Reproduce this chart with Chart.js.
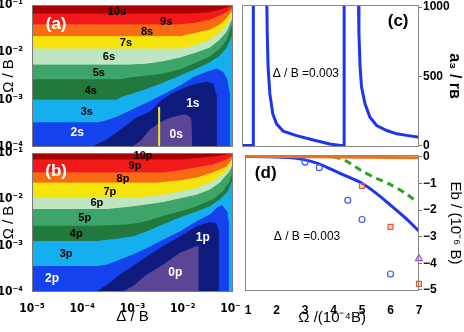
<!DOCTYPE html>
<html>
<head>
<meta charset="utf-8">
<script src="https://cdn.jsdelivr.net/npm/chart.js@4.4.0/dist/chart.umd.min.js"></script>
<style>
  html, body { margin: 0; padding: 0; background: #fff; }
  #wrap { position: relative; width: 464px; height: 332px; overflow: hidden; }
  canvas { position: absolute; }
</style>
</head>
<body>
<div id="wrap">
  <canvas id="pa" width="240" height="156" style="left:0px;top:0px"></canvas>
  <canvas id="pb" width="240" height="188" style="left:0px;top:144px"></canvas>
  <canvas id="pc" width="224" height="156" style="left:240px;top:0px"></canvas>
  <canvas id="pd" width="224" height="188" style="left:240px;top:144px"></canvas>
</div>
<script>
/* panel (a): upper edge of the region "level <= k", x = log10(Δ/B), y = log10(Ω/B) */
const aEdge10 = [[-5, -1], [-1, -1]];
const aEdge9 = [[-5, -1.19], [-1.86, -1.19], [-1.72, -1.18], [-1.46, -1.16], [-1.26, -1.11], [-1.12, -1.06], [-1, -1]];
const aEdge8 = [[-5, -1.42], [-2.05, -1.42], [-1.72, -1.38], [-1.46, -1.32], [-1.26, -1.23], [-1.12, -1.16], [-1, -1.04]];
const aEdge7 = [[-5, -1.67], [-2.05, -1.67], [-1.72, -1.59], [-1.46, -1.53], [-1.26, -1.42], [-1.12, -1.28], [-1, -1.11]];
const aEdge6 = [[-5, -1.93], [-2.05, -1.93], [-1.86, -1.89], [-1.72, -1.85], [-1.46, -1.74], [-1.26, -1.59], [-1.12, -1.42], [-1, -1.19]];
const aEdge5 = [[-5, -2.27], [-3.05, -2.27], [-2.71, -2.25], [-2.39, -2.20], [-2.05, -2.12], [-1.72, -2.01], [-1.46, -1.91], [-1.26, -1.74], [-1.12, -1.57], [-1, -1.28]];
const aEdge4 = [[-5, -2.58], [-3.25, -2.58], [-3.05, -2.54], [-2.71, -2.50], [-2.39, -2.46], [-2.05, -2.37], [-1.72, -2.22], [-1.46, -2.10], [-1.26, -1.93], [-1.12, -1.74], [-1, -1.40]];
const aEdge3 = [[-5, -3.01], [-3.31, -3.01], [-3.19, -2.94], [-3.05, -2.90], [-2.71, -2.78], [-2.39, -2.65], [-2.05, -2.50], [-1.72, -2.35], [-1.46, -2.22], [-1.26, -2.08], [-1.12, -1.91], [-1, -1.63]];
const aEdge2 = [[-5, -3.49], [-3.71, -3.49], [-3.59, -3.47], [-3.31, -3.37], [-3.05, -3.24], [-2.71, -3.07], [-2.39, -2.90], [-2.05, -2.71], [-1.80, -2.54], [-1.52, -2.42], [-1.32, -2.35], [-1.20, -2.42], [-1.12, -2.58], [-1.08, -2.84], [-1.08, -4]];
const aEdge1 = [[-3.79, -4], [-3.51, -3.85], [-3.31, -3.70], [-3.11, -3.54], [-2.95, -3.41], [-2.65, -3.26], [-2.41, -3.01], [-2.25, -2.90], [-1.99, -2.77], [-1.72, -2.67], [-1.52, -2.63], [-1.40, -2.67], [-1.34, -2.90], [-1.34, -4]];
const aEdge0 = [[-3.01, -4], [-2.85, -3.89], [-2.65, -3.64], [-2.45, -3.49], [-2.25, -3.39], [-2.05, -3.34], [-1.94, -3.32], [-1.84, -3.39], [-1.82, -4]];

/* panel (b) */
const bEdge10 = [[-5, -1], [-1, -1]];
const bEdge9 = [[-5, -1.15], [-2.05, -1.15], [-1.40, -1.09], [-1.12, -1.04], [-1, -1]];
const bEdge8 = [[-5, -1.43], [-2.39, -1.43], [-2.05, -1.38], [-1.72, -1.32], [-1.40, -1.26], [-1.12, -1.15], [-1, -1.06]];
const bEdge7 = [[-5, -1.65], [-2.51, -1.65], [-2.05, -1.60], [-1.72, -1.54], [-1.40, -1.43], [-1.12, -1.30], [-1, -1.11]];
const bEdge6 = [[-5, -1.96], [-2.8, -1.96], [-2.39, -1.91], [-2.05, -1.84], [-1.72, -1.76], [-1.40, -1.62], [-1.12, -1.40], [-1, -1.19]];
const bEdge5 = [[-5, -2.22], [-3.5, -2.22], [-3.05, -2.17], [-2.71, -2.12], [-2.39, -2.07], [-2.05, -1.99], [-1.72, -1.91], [-1.46, -1.80], [-1.26, -1.65], [-1.06, -1.40], [-1, -1.26]];
const bEdge4 = [[-5, -2.58], [-3.71, -2.58], [-3.05, -2.55], [-2.71, -2.48], [-2.39, -2.37], [-2.05, -2.27], [-1.72, -2.16], [-1.40, -2.01], [-1.20, -1.84], [-1.06, -1.62], [-1, -1.45]];
const bEdge3 = [[-5, -2.91], [-3.71, -2.91], [-3.31, -2.86], [-2.99, -2.81], [-2.71, -2.70], [-2.39, -2.55], [-2.05, -2.40], [-1.72, -2.27], [-1.46, -2.16], [-1.26, -2.01], [-1.10, -1.84], [-1, -1.58]];
const bEdge2 = [[-5, -3.45], [-3.71, -3.45], [-3.51, -3.42], [-3.25, -3.31], [-2.99, -3.20], [-2.71, -3.06], [-2.39, -2.88], [-2.05, -2.70], [-1.72, -2.48], [-1.46, -2.34], [-1.30, -2.17], [-1.22, -2.14], [-1.12, -2.27], [-1.10, -2.45], [-1.10, -4]];
const bEdge1 = [[-3.71, -4], [-3.45, -3.81], [-3.25, -3.63], [-2.99, -3.45], [-2.71, -3.24], [-2.39, -3.02], [-2.05, -2.81], [-1.72, -2.59], [-1.46, -2.50], [-1.34, -2.53], [-1.30, -2.66], [-1.30, -4]];
const bEdge0 = [[-3.19, -4], [-2.99, -3.88], [-2.71, -3.63], [-2.39, -3.42], [-2.05, -3.16], [-1.72, -3.02], [-1.70, -3.02], [-1.70, -4]];

const levelColors = ['#5b4696', '#0e1a7c', '#1443ee', '#15aff0', '#22793d', '#3da56a', '#bfe5c1', '#f5e40c', '#f86b14', '#f2191a', '#a80000'];

const sLabels = ['0s', '1s', '2s', '3s', '4s', '5s', '6s', '7s', '8s', '9s', '10s'];
const sLabelX = [-2.13, -1.80, -4.10, -3.91, -3.83, -3.67, -3.47, -3.13, -2.71, -2.33, -3.31];
const sLabelY = [-3.73, -3.09, -3.70, -3.26, -2.82, -2.44, -2.10, -1.80, -1.57, -1.36, -1.15];
const pLabels = ['0p', '1p', '2p', '3p', '4p', '5p', '6p', '7p', '8p', '9p', '10p'];
const pLabelX = [-2.15, -1.60, -4.60, -4.32, -4.12, -3.95, -3.71, -3.45, -3.19, -2.95, -2.79];
const pLabelY = [-3.59, -2.83, -3.72, -3.18, -2.75, -2.40, -2.08, -1.84, -1.56, -1.28, -1.06];

/* yellow marker line in (a) */
const markX = [-2.47, -2.47];
const markY = [-3.155, -4];

const logXTicks = [-5, -4, -3, -2, -1];
const logYTicks = [-4, -3, -2, -1];

/* panel (c): a3 / rB against Ω/(1e-4 B) */
const cX1 = [0.9, 1.29, 1.29];
const cY1 = [0, 0, 1100];
const cX2 = [1.75, 1.77, 1.80, 1.86, 1.96, 2.09, 2.32, 2.78, 3.36, 3.93, 4.35, 4.42, 4.42];
const cY2 = [1100, 809, 567, 375, 230, 157, 104, 72, 41, 12, 0, 0, 1100];
const cX3 = [4.91, 4.93, 4.97, 5.02, 5.14, 5.31, 5.54, 5.89, 6.23, 6.63, 7.0];
const cY3 = [1100, 809, 567, 422, 302, 205, 145, 109, 85, 72, 60];
const cYTicks = [0, 500, 1000];

/* panel (d): Eb / (1e-6 B) */
const dBlueX = [0.9, 1.5, 2.0, 2.5, 2.93, 3.47, 3.93, 4.45, 4.97, 5.48, 6.0, 6.52, 7.0];
const dBlueY = [0.02, 0.01, 0, -0.03, -0.09, -0.25, -0.47, -0.72, -0.97, -1.35, -1.81, -2.29, -2.79];
const dGreenX = [4.0, 4.3, 4.6, 5.0, 5.5, 6.0, 6.5, 6.95];
const dGreenY = [0, -0.08, -0.25, -0.53, -0.80, -1.04, -1.35, -1.70];
const dOrangeX = [0.9, 7.0];
const dOrangeY = [0.03, -0.03];
const circX = [3, 3.5, 4.5, 5, 6];
const circY = [-0.19, -0.40, -1.63, -2.35, -4.40];
const sqX = [5, 6, 7];
const sqY = [-1.09, -2.63, -4.77];
const triX = [7];
const triY = [-3.82];
const dXTicks = [1, 2, 3, 4, 5, 6, 7];
const dYTicks = [0, -1, -2, -3, -4, -5];

Chart.defaults.font.family = '"Liberation Sans", Arial, sans-serif';
Chart.defaults.color = '#000';
Chart.defaults.animation = false;
Chart.defaults.events = [];
Chart.defaults.plugins.legend.display = false;
Chart.defaults.plugins.tooltip.enabled = false;

const sup = { '-': '\u207B', '0': '\u2070', '1': '\u00B9', '2': '\u00B2', '3': '\u00B3', '4': '\u2074', '5': '\u2075', '6': '\u2076' };
const pow10 = v => '10' + String(v).split('').map(c => sup[c]).join('');
const toPts = (xs, ys) => xs.map((x, i) => ({ x: x, y: ys[i] }));
const setTicks = vals => s => { s.ticks = vals.map(v => ({ value: v })); };
const fixW = w => s => { s.width = w; s.paddingTop = 0; s.paddingBottom = 0; };
const fixH = h => s => { s.height = h; s.paddingLeft = 0; s.paddingRight = 0; };
const narrow = '"Liberation Sans Narrow", "DejaVu Sans Condensed", "Liberation Sans", sans-serif';

// closes an edge down to the bottom of the plot
function regionPts(edge) {
  const pts = edge.map(p => ({ x: p[0], y: p[1] }));
  const first = edge[0], last = edge[edge.length - 1];
  if (first[1] !== -4) pts.unshift({ x: first[0], y: -4 });
  if (last[1] !== -4) pts.push({ x: last[0], y: -4 });
  return pts;
}

function framePlugin(color) {
  return {
    id: 'frame',
    afterDatasetsDraw(chart) {
      const a = chart.chartArea, c = chart.ctx;
      c.save();
      c.strokeStyle = color;
      c.lineWidth = 1;
      c.strokeRect(Math.round(a.left) + 0.5, Math.round(a.top) + 0.5,
                   Math.round(a.right - a.left) - 1, Math.round(a.bottom - a.top) - 1);
      c.restore();
    }
  };
}

function notesPlugin(notes) {
  return {
    id: 'notes',
    afterDatasetsDraw(chart) {
      const c = chart.ctx, sx = chart.scales.x, sy = chart.scales.y;
      c.save();
      c.textAlign = 'center';
      c.textBaseline = 'middle';
      notes.forEach(n => {
        c.font = n.font;
        c.fillStyle = n.color;
        c.fillText(n.text, sx.getPixelForValue(n.x), sy.getPixelForValue(n.y));
      });
      c.restore();
    }
  };
}

function contourChart(id, edges, labels, labX, labY, letter, showX, extra) {
  const datasets = edges.map((edge, lvl) => ({
    data: regionPts(edge),
    showLine: true,
    fill: 'shape',
    backgroundColor: levelColors[lvl],
    borderColor: levelColors[lvl],
    borderWidth: 1,
    pointRadius: 0,
    order: lvl + 1
  })).concat(extra);

  const notes = labels.map((t, i) => ({
    text: t, x: labX[i], y: labY[i],
    color: i <= 2 ? '#fff' : '#000',
    font: i <= 2 ? 'bold 12px "Liberation Sans", Arial' : 'bold 11px "Liberation Sans", Arial'
  }));
  notes.push({ text: letter, x: -4.52, y: -1.40, color: '#fff', font: 'bold 17px "Liberation Sans", Arial' });

  const xAxis = {
    type: 'linear', min: -5, max: -1, display: showX,
    afterBuildTicks: setTicks(logXTicks),
    grid: { display: false }, border: { display: false },
    ticks: { padding: 2, maxRotation: 0, font: { size: 12, weight: 'bold', family: narrow }, callback: v => pow10(v) },
    title: { display: true, text: 'Δ / B', font: { size: 15 }, padding: { top: 0, bottom: 6 } }
  };
  if (showX) xAxis.afterFit = fixH(40);

  return new Chart(document.getElementById(id), {
    type: 'scatter',
    data: { datasets: datasets },
    options: {
      responsive: false,
      layout: { padding: showX ? { top: 9, right: 7, bottom: 0, left: 0 } : { top: 5, right: 7, bottom: 9, left: 0 } },
      scales: {
        x: xAxis,
        y: {
          type: 'linear', min: -4, max: -1,
          afterBuildTicks: setTicks(logYTicks),
          afterFit: fixW(32),
          grid: { display: false }, border: { display: false },
          ticks: { padding: 1, font: { size: 12, weight: 'bold', family: narrow }, callback: v => pow10(v) },
          title: { display: true, text: 'Ω / B', font: { size: 15 }, padding: { top: 0, bottom: 0 } }
        }
      }
    },
    plugins: [framePlugin('#7a7a7a'), notesPlugin(notes)]
  });
}

contourChart('pa',
  [aEdge0, aEdge1, aEdge2, aEdge3, aEdge4, aEdge5, aEdge6, aEdge7, aEdge8, aEdge9, aEdge10],
  sLabels, sLabelX, sLabelY, '(a)', false,
  [{ data: toPts(markX, markY), showLine: true, borderColor: '#f2e61a', borderWidth: 2, pointRadius: 0, order: 0 }]);

contourChart('pb',
  [bEdge0, bEdge1, bEdge2, bEdge3, bEdge4, bEdge5, bEdge6, bEdge7, bEdge8, bEdge9, bEdge10],
  pLabels, pLabelX, pLabelY, '(b)', true, []);

/* (c) */
const blue = '#1c35ee';
const seg = (xs, ys) => ({ data: toPts(xs, ys), showLine: true, borderColor: blue, borderWidth: 3, pointRadius: 0 });

new Chart(document.getElementById('pc'), {
  type: 'scatter',
  data: { datasets: [seg(cX1, cY1), seg(cX2, cY2), seg(cX3, cY3)] },
  options: {
    responsive: false,
    layout: { padding: { left: 2, top: 5, right: 0, bottom: 9 } },
    scales: {
      x: { type: 'linear', min: 0.9, max: 7, display: false },
      y: {
        type: 'linear', position: 'right', min: -10, max: 1015,
        afterBuildTicks: setTicks(cYTicks),
        afterFit: fixW(45),
        grid: { drawOnChartArea: false, tickLength: 3, color: '#777' },
        border: { display: false },
        ticks: { padding: 1, font: { size: 12, weight: 'bold' }, callback: v => String(v) },
        title: { display: true, text: 'a₃ / rʙ', font: { size: 16, weight: 'bold' }, padding: { top: 0, bottom: 0 } }
      }
    }
  },
  plugins: [framePlugin('#888'), notesPlugin([
    { text: '(c)', x: 6.28, y: 894, color: '#000', font: 'bold 17px "Liberation Sans", Arial' },
    { text: 'Δ / B =0.003', x: 3.10, y: 517, color: '#000', font: '12px "Liberation Sans", Arial' }
  ])]
});

/* (d) */
new Chart(document.getElementById('pd'), {
  type: 'scatter',
  data: {
    datasets: [
      { data: toPts(circX, circY), pointStyle: 'circle', pointRadius: 3, borderColor: '#3a5af0', backgroundColor: 'rgba(0,0,0,0)', borderWidth: 1.2, clip: false, order: 0 },
      { data: toPts(sqX, sqY), pointStyle: 'rect', pointRadius: 3.5, borderColor: '#ee5530', backgroundColor: 'rgba(250,150,120,0.35)', borderWidth: 1.2, clip: false, order: 0 },
      { data: toPts(triX, triY), pointStyle: 'triangle', pointRadius: 4, borderColor: '#b040d8', backgroundColor: 'rgba(210,140,240,0.35)', borderWidth: 1.2, clip: false, order: 0 },
      { data: toPts(dOrangeX, dOrangeY), showLine: true, borderColor: '#ea7420', borderWidth: 3, pointRadius: 0, order: 1 },
      { data: toPts(dBlueX, dBlueY), showLine: true, borderColor: blue, borderWidth: 3, pointRadius: 0, tension: 0.3, order: 2 },
      { data: toPts(dGreenX, dGreenY), showLine: true, borderColor: '#2aa52a', borderWidth: 3, borderDash: [7, 5], pointRadius: 0, tension: 0.3, order: 3 }
    ]
  },
  options: {
    responsive: false,
    layout: { padding: { left: 2, top: 11, right: 0, bottom: 0 } },
    scales: {
      x: {
        type: 'linear', min: 0.9, max: 7,
        afterBuildTicks: setTicks(dXTicks),
        afterFit: fixH(41),
        grid: { display: false }, border: { display: false },
        ticks: { padding: 4, maxRotation: 0, font: { size: 12, weight: 'bold' } },
        title: { display: true, text: 'Ω /(10⁻⁴B)', font: { size: 15 }, padding: { top: 0, bottom: 5 } }
      },
      y: {
        type: 'linear', position: 'right', min: -5.04, max: 0.075,
        afterBuildTicks: setTicks(dYTicks),
        afterFit: fixW(45),
        grid: { drawOnChartArea: false, tickLength: 3, color: '#777' },
        border: { display: false },
        ticks: { padding: 1, font: { size: 12, weight: 'bold' }, callback: v => v === 0 ? '0' : '\u2212' + Math.abs(v) },
        title: { display: true, text: 'Eb / (10⁻⁶ B)', font: { size: 15 }, padding: { top: 0, bottom: 0 } }
      }
    }
  },
  plugins: [framePlugin('#888'), notesPlugin([
    { text: '(d)', x: 1.62, y: -0.60, color: '#000', font: 'bold 17px "Liberation Sans", Arial' },
    { text: 'Δ / B =0.003', x: 3.07, y: -3.01, color: '#000', font: '12px "Liberation Sans", Arial' }
  ])]
});
</script>
</body>
</html>
